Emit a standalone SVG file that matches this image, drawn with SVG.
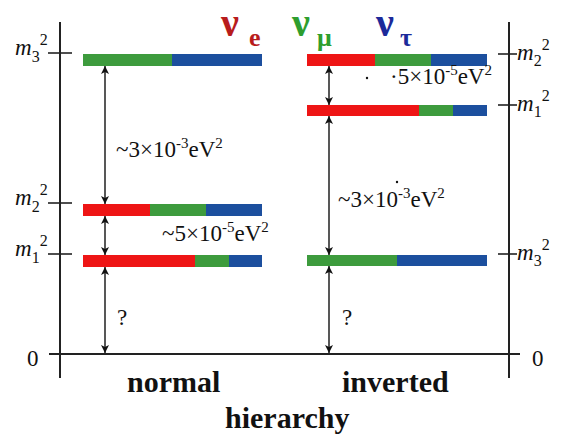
<svg xmlns="http://www.w3.org/2000/svg" width="567" height="447" viewBox="0 0 567 447">
<style>
.ax{stroke:#222;stroke-width:2;fill:none}
.tk{stroke:#222;stroke-width:1.6}
.ar{stroke:#111;stroke-width:1.4;fill:none;marker-start:url(#ah);marker-end:url(#ah)}
.r{fill:#ee1515}.g{fill:#3d9b3d}.b{fill:#1c4f9e}
.m{font-family:"Liberation Serif",serif;font-style:italic;font-size:23px;fill:#111}
.s{font-family:"Liberation Serif",serif;font-size:16px;fill:#111}
.t{font-family:"Liberation Serif",serif;font-size:23px;fill:#111}
.sp{font-size:15px}
.bd{font-family:"Liberation Serif",serif;font-weight:bold;font-size:30px;fill:#111}
.nu{font-family:"Liberation Serif",serif;font-weight:bold;font-size:40px}
.sub{font-family:"Liberation Serif",serif;font-weight:bold;font-size:26px}
</style>
<defs>
<marker id="ah" viewBox="0 0 10 10" refX="10" refY="5" markerWidth="8" markerHeight="8" markerUnits="userSpaceOnUse" orient="auto-start-reverse">
<path d="M0,0 L10,5 L0,10 L2.5,5 z" fill="#111"/>
</marker>
</defs>
<rect width="567" height="447" fill="#fff"/>
<g id="axes">
<line class="ax" x1="60" y1="22" x2="60" y2="378"/>
<line class="ax" x1="509" y1="22" x2="509" y2="378"/>
<line class="ax" x1="49" y1="354" x2="520" y2="354" stroke-width="2.4"/>
<line class="tk" x1="48" y1="53" x2="72" y2="53"/>
<line class="tk" x1="48" y1="203" x2="72" y2="203"/>
<line class="tk" x1="48" y1="254" x2="72" y2="254"/>
<line class="tk" x1="498" y1="54" x2="517" y2="54"/>
<line class="tk" x1="498" y1="105" x2="517" y2="105"/>
<line class="tk" x1="498" y1="254" x2="517" y2="254"/>
<text class="t" x="27" y="366" font-size="22">0</text>
<text class="t" x="532" y="366" font-size="22">0</text>
</g>
<g id="mass-labels">
<text class="m" x="15" y="55">m<tspan class="s" font-style="normal" dy="7">3</tspan><tspan class="s" font-style="normal" dy="-17">2</tspan></text>
<text class="m" x="15" y="205">m<tspan class="s" font-style="normal" dy="7">2</tspan><tspan class="s" font-style="normal" dy="-17">2</tspan></text>
<text class="m" x="15" y="256">m<tspan class="s" font-style="normal" dy="7">1</tspan><tspan class="s" font-style="normal" dy="-17">2</tspan></text>
<text class="m" x="517" y="60">m<tspan class="s" font-style="normal" dy="6">2</tspan><tspan class="s" font-style="normal" dy="-16">2</tspan></text>
<text class="m" x="517" y="111">m<tspan class="s" font-style="normal" dy="6">1</tspan><tspan class="s" font-style="normal" dy="-16">2</tspan></text>
<text class="m" x="517" y="260">m<tspan class="s" font-style="normal" dy="6">3</tspan><tspan class="s" font-style="normal" dy="-16">2</tspan></text>
</g>
<g id="flavours">
<text class="nu" x="221" y="36" fill="#b81c1c">ν</text><text class="sub" x="249" y="46" fill="#b81c1c">e</text>
<text class="nu" x="292" y="36" fill="#2e9e2e">ν</text><text class="sub" x="317" y="46" fill="#2e9e2e">μ</text>
<text class="nu" x="376" y="36" fill="#1c2a9a">ν</text><text class="sub" x="400" y="46" fill="#1c2a9a">τ</text>
</g>
<g id="normal-m3"><rect class="g" x="83" y="54" width="89" height="12"/><rect class="b" x="172" y="54" width="90" height="12"/></g>
<g id="normal-m2"><rect class="r" x="83" y="204" width="67" height="12"/><rect class="g" x="150" y="204" width="56" height="12"/><rect class="b" x="206" y="204" width="56" height="12"/></g>
<g id="normal-m1"><rect class="r" x="83" y="255" width="112" height="12"/><rect class="g" x="195" y="255" width="34" height="12"/><rect class="b" x="229" y="255" width="33" height="12"/></g>
<g id="inverted-m2"><rect class="r" x="307" y="54" width="68" height="12"/><rect class="g" x="375" y="54" width="56" height="12"/><rect class="b" x="431" y="54" width="56" height="12"/></g>
<g id="inverted-m1"><rect class="r" x="307" y="105" width="112" height="11"/><rect class="g" x="419" y="105" width="34" height="11"/><rect class="b" x="453" y="105" width="34" height="11"/></g>
<g id="inverted-m3"><rect class="g" x="307" y="255" width="90" height="11"/><rect class="b" x="397" y="255" width="90" height="11"/></g>
<g id="connectors">
<line class="ar" x1="105" y1="66" x2="105" y2="204"/>
<line class="ar" x1="105" y1="216" x2="105" y2="255"/>
<line class="ar" x1="105" y1="267" x2="105" y2="353"/>
<line class="ar" x1="329" y1="66" x2="329" y2="105"/>
<line class="ar" x1="329" y1="116" x2="329" y2="255"/>
<line class="ar" x1="329" y1="266" x2="329" y2="353"/>
</g>
<g id="gap-labels">
<text class="t" x="116" y="157">~3×10<tspan class="sp" dy="-9">-3</tspan><tspan dy="9">eV</tspan><tspan class="sp" dy="-9">2</tspan></text>
<text class="t" x="162" y="241">~5×10<tspan class="sp" dy="-9">-5</tspan><tspan dy="9">eV</tspan><tspan class="sp" dy="-9">2</tspan></text>
<text class="t" x="390" y="84">·5×10<tspan class="sp" dy="-9">-5</tspan><tspan dy="9">eV</tspan><tspan class="sp" dy="-9">2</tspan></text>
<text class="t" x="338" y="207">~3×10<tspan class="sp" dy="-9">-3</tspan><tspan dy="9">eV</tspan><tspan class="sp" dy="-9">2</tspan></text>
<circle cx="367" cy="78" r="1.2" fill="#111"/>
<circle cx="397" cy="182" r="1.2" fill="#111"/>
<text class="t" x="117" y="325" font-size="22">?</text>
<text class="t" x="342" y="325" font-size="22">?</text>
</g>
<g id="captions">
<text class="bd" x="127" y="392">normal</text>
<text class="bd" x="342" y="392">inverted</text>
<text class="bd" x="225" y="428">hierarchy</text>
</g>
</svg>
